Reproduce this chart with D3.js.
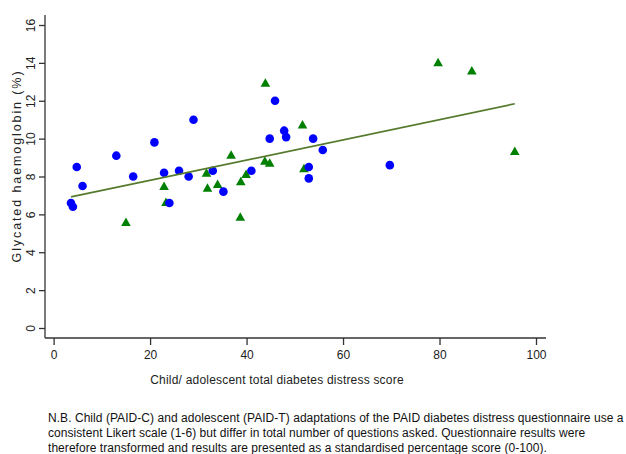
<!DOCTYPE html>
<html>
<head>
<meta charset="utf-8">
<script src="https://cdn.jsdelivr.net/npm/d3@7"></script>
<style>
  body { margin: 0; background: #fff; }
  svg { display: block; font-family: "Liberation Sans", Arial, sans-serif; }
</style>
</head>
<body>
<svg id="chart" width="626" height="454"></svg>
<script>
// child scores (circles) and adolescent scores (triangles)
const circleX = [4.8, 6.0, 3.6, 4.0, 13.0, 16.5, 20.9, 22.9, 29.0, 26.0, 28.0, 33.0, 35.2, 24.0,
                 45.9, 47.8, 48.2, 44.8, 53.8, 55.8, 41.0, 52.9, 52.9, 69.7];
const circleY = [8.5, 7.5, 6.6, 6.4, 9.1, 8.0, 9.8, 8.2, 11.0, 8.3, 8.0, 8.3, 7.2, 6.6,
                 12.0, 10.42, 10.08, 10.0, 10.0, 9.4, 8.3, 8.5, 7.9, 8.6];
const triX = [15.0, 22.9, 23.3, 31.7, 31.9, 34.0, 36.8, 43.9, 51.6, 43.8, 44.8, 39.9, 38.8, 38.7,
              51.9, 79.7, 86.7, 95.6];
const triY = [5.6, 7.5, 6.65, 8.2, 7.4, 7.6, 9.15, 12.95, 10.75, 8.83, 8.73, 8.13, 7.75, 5.88,
              8.43, 14.03, 13.6, 9.35];
// fitted line end points
const fitX = [3.6, 95.6];
const fitY = [6.92, 11.84];

const xTicks = [0, 20, 40, 60, 80, 100];
const yTicks = [0, 2, 4, 6, 8, 10, 12, 14, 16];

const note = [
  "N.B. Child (PAID-C) and adolescent (PAID-T) adaptations of the PAID diabetes distress questionnaire use a",
  "consistent Likert scale (1-6) but differ in total number of questions asked. Questionnaire results were",
  "therefore transformed and results are presented as a standardised percentage score (0-100)."
];

const svg = d3.select("#chart");

var x = d3.scaleLinear().domain([0, 100]).range([53.6, 536]);
var y = d3.scaleLinear().domain([0, 16]).range([328, 25]);

const axisColor = "#333";

// y axis
var gy = svg.append("g").attr("transform", "translate(45,0)");
gy.call(d3.axisLeft(y).tickValues(yTicks).tickSize(6).tickSizeOuter(0).tickFormat(d3.format("d")));
gy.select(".domain").remove();
gy.append("line").attr("x1", 0).attr("x2", 0).attr("y1", 15).attr("y2", 338)
  .attr("stroke", axisColor).attr("stroke-width", 1.3);
gy.selectAll(".tick line").attr("stroke", axisColor).attr("stroke-width", 1.3);
gy.selectAll(".tick text")
  .attr("x", 0).attr("dy", null)
  .attr("transform", "translate(-10,0) rotate(-90)")
  .attr("text-anchor", "middle")
  .attr("fill", "#222")
  .style("font-size", "12px");

// x axis
var gx = svg.append("g").attr("transform", "translate(0,338)");
gx.call(d3.axisBottom(x).tickValues(xTicks).tickSize(7).tickSizeOuter(0));
gx.select(".domain").remove();
gx.append("line").attr("x1", 45).attr("x2", 546).attr("y1", 0).attr("y2", 0)
  .attr("stroke", axisColor).attr("stroke-width", 1.3);
gx.selectAll(".tick line").attr("stroke", axisColor).attr("stroke-width", 1.3);
gx.selectAll(".tick text").attr("y", 12).attr("fill", "#222").style("font-size", "12px");

// axis titles
svg.append("text")
  .attr("transform", "translate(21,166) rotate(-90)")
  .attr("text-anchor", "middle")
  .attr("fill", "#222")
  .style("font-size", "12.5px")
  .style("letter-spacing", "1.9px")
  .text("Glycated haemoglobin (%)");

svg.append("text")
  .attr("x", 277).attr("y", 384)
  .attr("text-anchor", "middle")
  .attr("fill", "#222")
  .style("font-size", "12px")
  .style("letter-spacing", "0.2px")
  .text("Child/ adolescent total diabetes distress score");

// triangles
const tri = d3.range(triX.length);
svg.append("g").selectAll("path")
  .data(tri)
  .enter().append("path")
  .attr("d", function (i) {
    var cx = x(triX[i]), cy = y(triY[i]);
    return "M" + cx + "," + (cy - 4.5) + "L" + (cx + 4.8) + "," + (cy + 4) + "L" + (cx - 4.8) + "," + (cy + 4) + "Z";
  })
  .attr("fill", "#008000");

// circles
const circ = d3.range(circleX.length);
svg.append("g").selectAll("circle")
  .data(circ)
  .enter().append("circle")
  .attr("cx", function (i) { return x(circleX[i]); })
  .attr("cy", function (i) { return y(circleY[i]); })
  .attr("r", 4.3)
  .attr("fill", "#0000ff");

// fitted line
var line = d3.line()
  .x(function (d) { return x(d[0]); })
  .y(function (d) { return y(d[1]); });
svg.append("path")
  .datum(d3.zip(fitX, fitY))
  .attr("d", line)
  .attr("fill", "none")
  .attr("stroke", "#557a2c")
  .attr("stroke-width", 1.7);

// footnote
svg.append("g").selectAll("text")
  .data(note)
  .enter().append("text")
  .attr("x", 48)
  .attr("y", function (d, i) { return 421.5 + i * 15.3; })
  .attr("fill", "#111")
  .style("font-size", "12px")
  .style("letter-spacing", "0.05px")
  .text(function (d) { return d; });
</script>
</body>
</html>
